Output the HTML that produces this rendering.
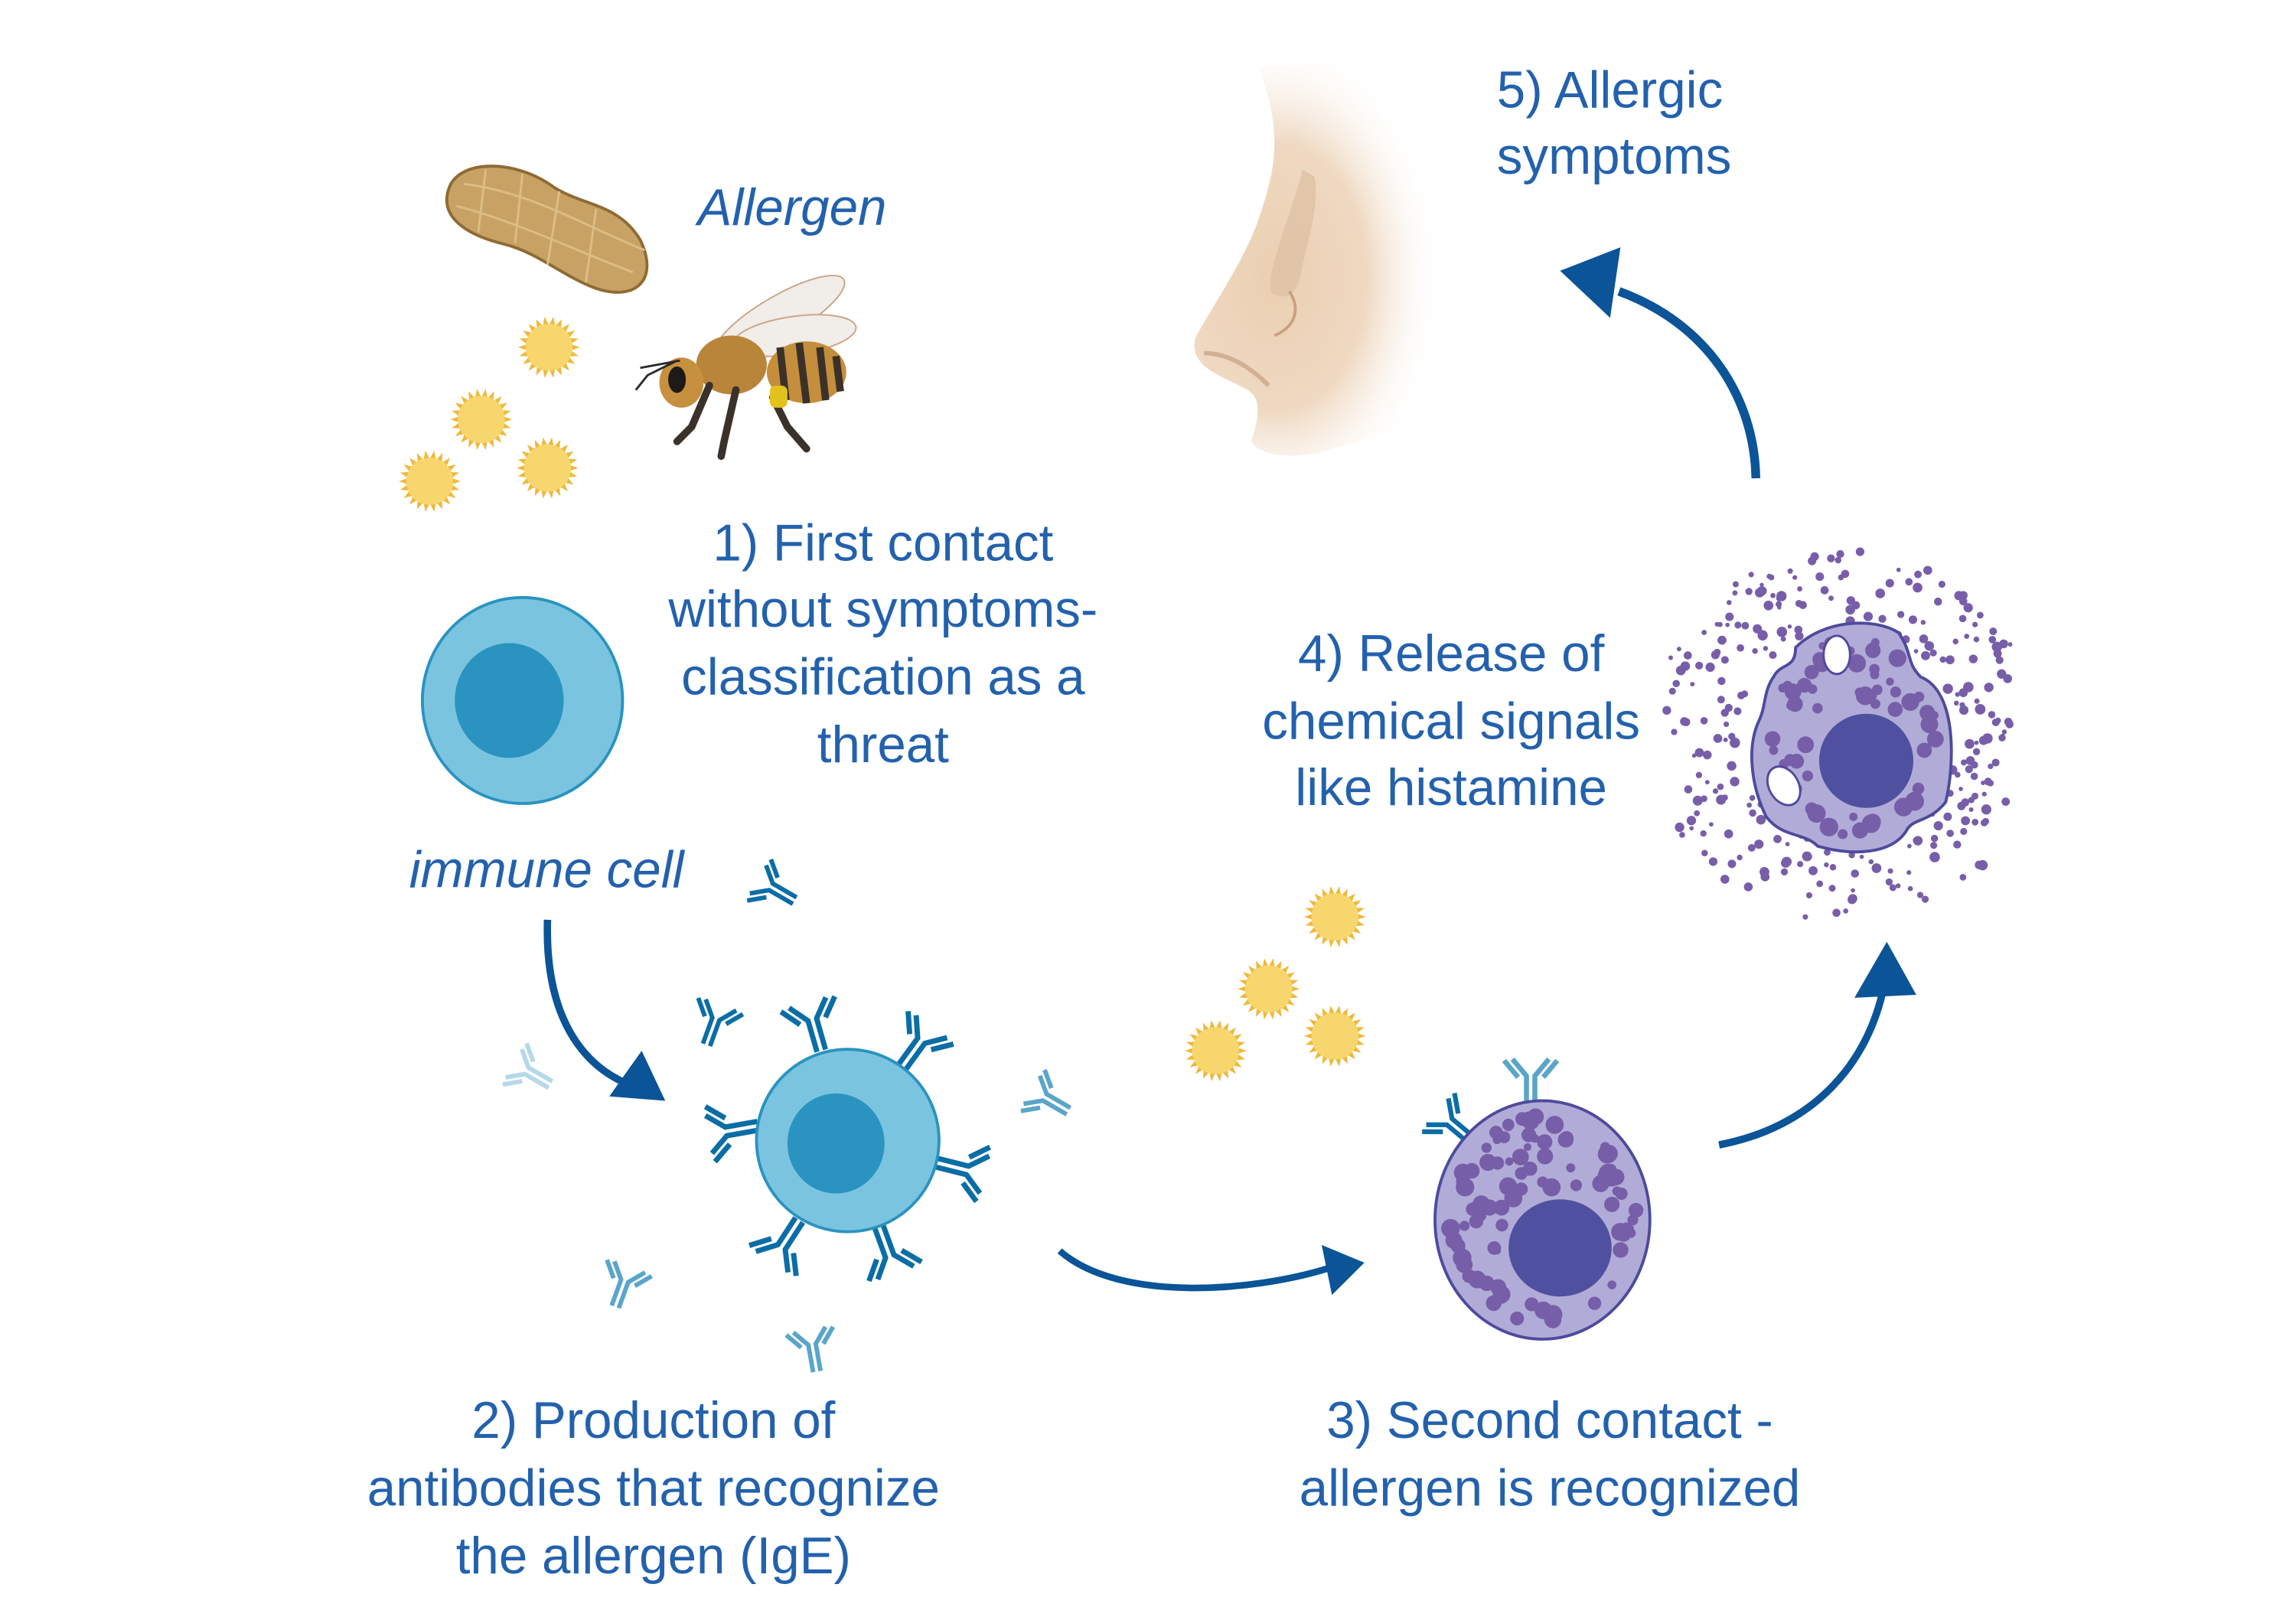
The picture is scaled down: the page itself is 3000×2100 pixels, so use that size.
<!DOCTYPE html>
<html><head><meta charset="utf-8">
<style>
html,body{margin:0;padding:0;background:#fff;}
svg{display:block;}
text{font-family:"Liberation Sans",sans-serif;fill:#2361ad;}
</style></head>
<body>
<svg id="s" width="3000" height="2100" viewBox="0 0 1560 1092" preserveAspectRatio="none" xmlns="http://www.w3.org/2000/svg">
<defs>
<radialGradient id="skin" cx="0.3" cy="0.55" r="0.62">
<stop offset="0" stop-color="#ebcfb1"/><stop offset="0.55" stop-color="#efd9c2"/><stop offset="1" stop-color="#ffffff" stop-opacity="0"/>
</radialGradient>
<g id="ab">
<path d="M-3,0 L-3,-22 L-13,-34 M3,0 L3,-22 L13,-34" fill="none" stroke-width="3.6"/>
<path d="M-9,-21 L-19,-33 M9,-21 L19,-33" fill="none" stroke-width="3.6"/>
</g>
</defs>

<!-- nose -->
<path d="M855,45 C870,85 868,110 858,140 C848,175 825,205 812,230 C808,250 830,255 848,265 C858,272 855,285 850,300 C858,312 885,312 905,305 L995,280 L995,40 Z" fill="url(#skin)"/>
<path d="M885,115 C878,145 862,178 863,198 C870,205 882,202 884,185 C888,165 897,140 893,120 Z" fill="#dfc2a5" opacity="0.8"/>
<path d="M818,240 C835,240 850,250 862,262" stroke="#d2b093" stroke-width="3" fill="none"/>
<path d="M876,198 C884,210 880,222 866,228" stroke="#c9a181" stroke-width="2" fill="none"/>

<!-- peanut -->
<path d="M305,128 C312,108 350,108 376,127 C396,140 420,138 435,163 C448,190 432,205 405,196 C383,188 366,172 343,166 C318,160 298,148 305,128Z" fill="#c8a264" stroke="#8e6b34" stroke-width="2"/>
<path d="M310,140 C350,150 390,170 430,185 M315,125 C360,130 400,155 438,170 M330,115 L325,158 M355,118 L350,165 M380,130 L372,180 M405,142 L398,192" stroke="#dcbd86" stroke-width="1.5" fill="none"/>

<!-- bee -->
<ellipse cx="530" cy="215" rx="50" ry="14" transform="rotate(-30 530 215)" fill="#f1ede8" stroke="#c8a488" stroke-width="1"/>
<ellipse cx="540" cy="228" rx="42" ry="13" transform="rotate(-8 540 228)" fill="#f1ede8" stroke="#c8a488" stroke-width="1"/>
<ellipse cx="548" cy="253" rx="27" ry="21" fill="#c48e3c"/>
<path d="M530,236 L534,272 M543,233 L548,274 M557,236 L561,272 M568,242 L571,266" stroke="#3b3128" stroke-width="5"/>
<ellipse cx="497" cy="248" rx="24" ry="20" fill="#b9853a"/>
<ellipse cx="463" cy="260" rx="15" ry="17" fill="#c7903e"/>
<ellipse cx="460" cy="258" rx="6" ry="9" fill="#1e1a18"/>
<path d="M460,245 L440,255 L432,265 M462,245 L435,250" stroke="#2a2a2a" stroke-width="1.5" fill="none"/>
<path d="M482,262 L470,290 L460,300 M500,265 L492,300 L490,310 M525,270 L535,290 L548,305" stroke="#3a312a" stroke-width="5" fill="none" stroke-linecap="round"/>
<rect x="523" y="262" width="12" height="15" rx="4" fill="#e3c21e"/>

<!-- pollen -->
<g id="pollen"></g>

<!-- immune cell 1 -->
<ellipse cx="355" cy="476" rx="68" ry="70" fill="#7bc4e0" stroke="#2a93c0" stroke-width="2"/>
<ellipse cx="346" cy="476" rx="37" ry="39" fill="#2a93c0"/>

<!-- cell 2 -->
<g stroke="#0b6da6">
<use href="#ab" transform="translate(558,714) rotate(-16)"/>
<use href="#ab" transform="translate(613,725) rotate(36)"/>
<use href="#ab" transform="translate(515,765) rotate(-100)"/>
<use href="#ab" transform="translate(636,790) rotate(104)"/>
<use href="#ab" transform="translate(543,829) rotate(-147)"/>
<use href="#ab" transform="translate(597,833) rotate(160)"/>
<use href="#ab" transform="translate(480,710) rotate(20) scale(0.85)"/>
<use href="#ab" transform="translate(540,612) rotate(-60) scale(0.85)"/>
<use href="#ab" transform="translate(1000,775) rotate(-50) scale(0.9)"/>
</g>
<g stroke="#5aa5c9"><use href="#ab" transform="translate(726,755) rotate(-60) scale(0.85)"/><use href="#ab" transform="translate(418,888) rotate(20) scale(0.85)"/><use href="#ab" transform="translate(555,932) rotate(-10) scale(0.85)"/><use href="#ab" transform="translate(1040,752) rotate(0) scale(0.95)"/></g>
<g stroke="#b5d8ea"><use href="#ab" transform="translate(374,737) rotate(-60) scale(0.85)"/></g>
<circle cx="576" cy="775" r="62" fill="#7bc4e0" stroke="#2a93c0" stroke-width="2"/>
<ellipse cx="568" cy="777" rx="33" ry="34" fill="#2a93c0"/>

<!-- mast cell -->
<ellipse cx="1048" cy="829" rx="73" ry="81" fill="#b1acd7" stroke="#4e4a9c" stroke-width="2"/>
<g id="g1" fill="#775ea9"></g>
<ellipse cx="1060" cy="848" rx="35" ry="33" fill="#5050a0"/>

<!-- degranulating cell -->
<g id="g2" fill="#775ea9"></g>
<path d="M1220,440 C1240,420 1275,420 1290,430 C1300,445 1295,450 1305,460 C1330,470 1328,520 1322,545 C1310,560 1300,555 1295,565 C1285,580 1260,582 1235,575 C1225,565 1212,570 1200,555 C1188,530 1188,505 1195,490 C1200,480 1198,470 1205,460 C1210,450 1220,455 1220,440Z" fill="#b1acd7" stroke="#4e4a9c" stroke-width="2"/>
<g id="g3" fill="#775ea9"></g>
<ellipse cx="1248" cy="445" rx="9" ry="13" fill="#fff" stroke="#4e4a9c" stroke-width="1.5"/>
<ellipse cx="1212" cy="534" rx="10" ry="14" transform="rotate(-30 1212 534)" fill="#fff" stroke="#4e4a9c" stroke-width="1.5"/>
<circle cx="1268" cy="517" r="32" fill="#5050a0"/>

<!-- arrows -->
<g fill="#0b5497" stroke="#0b5497">
<path d="M372,625 C370,690 395,725 430,738" fill="none" stroke-width="5"/>
<polygon points="452,748 414,745 436,714" stroke="none"/>
<path d="M720,850 C760,885 850,878 902,862" fill="none" stroke-width="4.5"/>
<polygon points="927,858 898,846 905,880" stroke="none"/>
<path d="M1168,778 C1235,765 1270,720 1280,670" fill="none" stroke-width="5"/>
<polygon points="1282,640 1260,678 1302,676" stroke="none"/>
<path d="M1193,325 C1192,270 1160,220 1100,198" fill="none" stroke-width="6"/>
<polygon points="1060,184 1101,168 1094,216" stroke="none"/>
</g>

<!-- text -->
<g font-size="35">
<text x="1017" y="73">5) Allergic</text>
<text x="1017" y="118">symptoms</text>
<text x="474" y="153" font-style="italic">Allergen</text>
<g text-anchor="middle">
<text x="600" y="381">1) First contact</text>
<text x="600" y="426">without symptoms-</text>
<text x="600" y="472">classification as a</text>
<text x="600" y="518">threat</text>
<text x="986" y="456">4) Release of</text>
<text x="986" y="502">chemical signals</text>
<text x="986" y="547">like histamine</text>
<text x="444" y="977">2) Production of</text>
<text x="444" y="1023">antibodies that recognize</text>
<text x="444" y="1069">the allergen (IgE)</text>
<text x="1053" y="977">3) Second contact -</text>
<text x="1053" y="1023">allergen is recognized</text>
</g>
<text x="278" y="603" font-style="italic">immune cell</text>
</g>
</svg>
<script>
var NS="http://www.w3.org/2000/svg";
var seed=7;function r(){seed=(seed*16807)%2147483647;return seed/2147483647;}
function c(g,x,y,rad,f){var e=document.createElementNS(NS,"circle");e.setAttribute("cx",x);e.setAttribute("cy",y);e.setAttribute("r",rad);if(f)e.setAttribute("fill",f);g.appendChild(e);}
var P=document.getElementById("pollen");
[[373,236],[327,285],[372,318],[292,327],[907,623],[862,672],[826,714],[907,704]].forEach(function(p){
 var pts=[];for(var i=0;i<44;i++){var a=i*Math.PI/22;var rr=(i%2?15:21);pts.push((p[0]+rr*Math.cos(a)).toFixed(1)+","+(p[1]+rr*Math.sin(a)).toFixed(1));}
 var pg=document.createElementNS(NS,"polygon");pg.setAttribute("points",pts.join(" "));pg.setAttribute("fill","#f0b83a");P.appendChild(pg);
 c(P,p[0],p[1],16,"#f8d66e");
});
var g1=document.getElementById("g1");
for(var i=0;i<140;i++){var a=r()*6.283,d=Math.sqrt(r());var x=1048+Math.cos(a)*d*64,y=829+Math.sin(a)*d*72;
 if(Math.hypot(x-1060,y-848)<41)continue;c(g1,x,y,2.5+r()*4);}
var g2=document.getElementById("g2");
for(var i=0;i<300;i++){var a=r()*6.283,d=72+r()*55;var x=1255+Math.cos(a)*d*1.05,y=500+Math.sin(a)*d;
 if(y<372||y>625||x<1132||x>1366)continue;c(g2,x,y,1.4+r()*2.2);}
var g3=document.getElementById("g3");
for(var i=0;i<90;i++){var a=r()*6.283,d=Math.sqrt(r());var x=1258+Math.cos(a)*d*58,y=500+Math.sin(a)*d*68;
 if(Math.hypot(x-1268,y-517)<38)continue;c(g3,x,y,2.5+r()*4);}
</script>
</body></html>
